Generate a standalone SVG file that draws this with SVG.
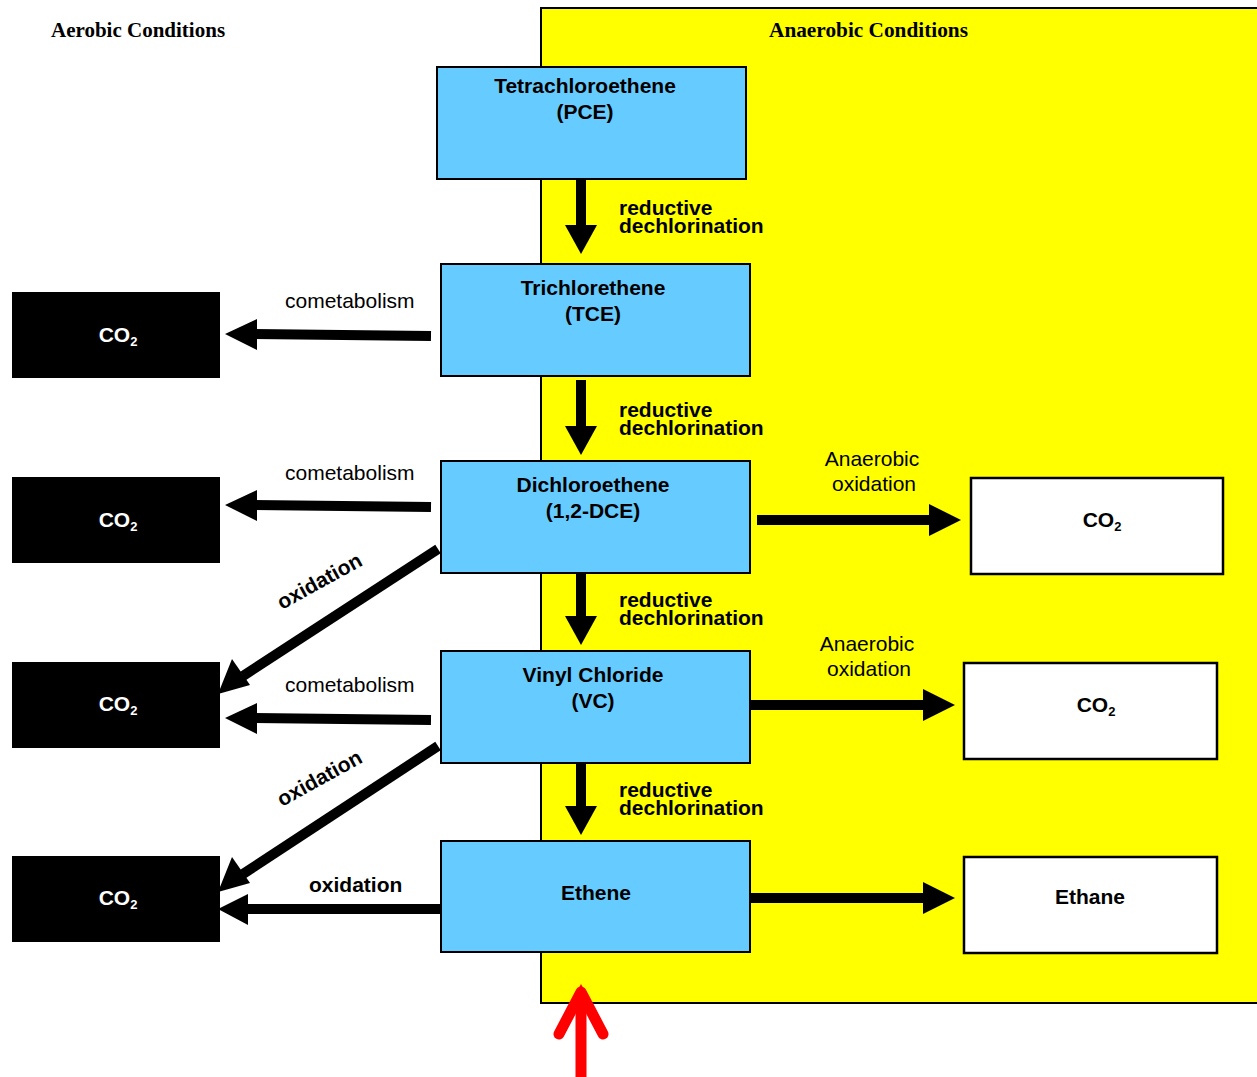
<svg xmlns="http://www.w3.org/2000/svg" width="1257" height="1077" viewBox="0 0 1257 1077">
<style>
.title{font-family:"Liberation Serif","Times New Roman",serif;font-weight:bold;font-size:21px;fill:#000}
.box{fill:#66CCFF;stroke:#000;stroke-width:2}
.blk{fill:#000}
.wht{fill:#fff;stroke:#000;stroke-width:2.5}
.bt{font-family:"Liberation Sans",Arial,sans-serif;font-weight:bold;font-size:21px;fill:#000;text-anchor:middle}
.ct{font-family:"Liberation Sans",Arial,sans-serif;font-weight:bold;font-size:21px;fill:#fff;text-anchor:middle}
.sub{font-size:13px}
.lb{font-family:"Liberation Sans",Arial,sans-serif;font-weight:bold;font-size:21px;fill:#000}
.ln{font-family:"Liberation Sans",Arial,sans-serif;font-size:21px;fill:#000}
.shaft{stroke:#000;stroke-width:10;fill:none}
.head{fill:#000}
</style>
<rect width="1257" height="1077" fill="#fff"/>
<rect x="541" y="8" width="720" height="995" fill="#FFFF00" stroke="#000" stroke-width="2"/>
<text class="title" x="51" y="37">Aerobic Conditions</text>
<text class="title" x="769" y="37" textLength="199" lengthAdjust="spacingAndGlyphs">Anaerobic Conditions</text>

<g id="connectors">
  <g id="down1"><line class="shaft" x1="581" y1="179" x2="581" y2="226"/><polygon class="head" points="565,225 597,225 581,254"/></g>
  <g id="down2"><line class="shaft" x1="581" y1="380" x2="581" y2="427"/><polygon class="head" points="565,426 597,426 581,455"/></g>
  <g id="down3"><line class="shaft" x1="581" y1="571" x2="581" y2="617"/><polygon class="head" points="565,616 597,616 581,645"/></g>
  <g id="down4"><line class="shaft" x1="581" y1="761" x2="581" y2="807"/><polygon class="head" points="565,806 597,806 581,835"/></g>
  <text class="lb" x="619" y="215">reductive</text><text class="lb" x="619" y="233">dechlorination</text>
  <text class="lb" x="619" y="417">reductive</text><text class="lb" x="619" y="435">dechlorination</text>
  <text class="lb" x="619" y="607">reductive</text><text class="lb" x="619" y="625">dechlorination</text>
  <text class="lb" x="619" y="797">reductive</text><text class="lb" x="619" y="815">dechlorination</text>

  <g id="co1"><line class="shaft" x1="431" y1="336" x2="254" y2="334"/><polygon class="head" points="257,319 257,350 225,334"/></g>
  <g id="co2"><line class="shaft" x1="431" y1="507" x2="254" y2="505"/><polygon class="head" points="257,490 257,521 225,505"/></g>
  <g id="co3"><line class="shaft" x1="431" y1="720" x2="254" y2="718"/><polygon class="head" points="257,703 257,734 225,718"/></g>
  <text class="ln" x="285" y="308">cometabolism</text>
  <text class="ln" x="285" y="480">cometabolism</text>
  <text class="ln" x="285" y="692">cometabolism</text>

  <g id="ox1"><line class="shaft" x1="438" y1="549" x2="243" y2="676"/><polygon class="head" points="232,659 250,685 218,694"/></g>
  <g id="ox2"><line class="shaft" x1="438" y1="746" x2="243" y2="874"/><polygon class="head" points="232,857 250,883 218,892"/></g>
  <text class="lb" transform="translate(282,610) rotate(-29)">oxidation</text>
  <text class="lb" transform="translate(282,807) rotate(-29)">oxidation</text>
  <g id="ox3"><line class="shaft" x1="441" y1="909" x2="246" y2="909"/><polygon class="head" points="248,894 248,925 218,909"/></g>
  <text class="lb" x="309" y="892">oxidation</text>

  <g id="an1"><line class="shaft" x1="757" y1="520" x2="932" y2="520"/><polygon class="head" points="929,504 929,536 961,520"/></g>
  <g id="an2"><line class="shaft" x1="750" y1="705" x2="926" y2="705"/><polygon class="head" points="923,689 923,721 955,705"/></g>
  <g id="an3"><line class="shaft" x1="750" y1="898" x2="926" y2="898"/><polygon class="head" points="923,882 923,914 955,898"/></g>
  <text class="ln" x="872" y="466" text-anchor="middle">Anaerobic</text><text class="ln" x="874" y="491" text-anchor="middle">oxidation</text>
  <text class="ln" x="867" y="651" text-anchor="middle">Anaerobic</text><text class="ln" x="869" y="676" text-anchor="middle">oxidation</text>

  <g id="red" stroke="#FF0000" stroke-width="11" fill="none" stroke-linecap="round" stroke-linejoin="round">
    <line x1="581" y1="1080" x2="581" y2="992" stroke-linecap="butt"/>
    <polyline points="559,1034 581,992 603,1034"/>
  </g>
  <polygon points="581,984 566,1012 596,1012" fill="#FF0000"/>
</g>

<g id="pce"><rect class="box" x="437" y="67" width="309" height="112"/><text class="bt" x="585" y="93">Tetrachloroethene</text><text class="bt" x="585" y="119">(PCE)</text></g>
<g id="tce"><rect class="box" x="441" y="264" width="309" height="112"/><text class="bt" x="593" y="295">Trichlorethene</text><text class="bt" x="593" y="321">(TCE)</text></g>
<g id="dce"><rect class="box" x="441" y="461" width="309" height="112"/><text class="bt" x="593" y="492">Dichloroethene</text><text class="bt" x="593" y="518">(1,2-DCE)</text></g>
<g id="vc"><rect class="box" x="441" y="651" width="309" height="112"/><text class="bt" x="593" y="682">Vinyl Chloride</text><text class="bt" x="593" y="708">(VC)</text></g>
<g id="ethene"><rect class="box" x="441" y="841" width="309" height="111"/><text class="bt" x="596" y="900">Ethene</text></g>

<g id="co2a"><rect class="blk" x="12" y="292" width="208" height="86"/><text class="ct" x="118" y="342">CO<tspan class="sub" dy="4">2</tspan></text></g>
<g id="co2b"><rect class="blk" x="12" y="477" width="208" height="86"/><text class="ct" x="118" y="527">CO<tspan class="sub" dy="4">2</tspan></text></g>
<g id="co2c"><rect class="blk" x="12" y="662" width="208" height="86"/><text class="ct" x="118" y="711">CO<tspan class="sub" dy="4">2</tspan></text></g>
<g id="co2d"><rect class="blk" x="12" y="856" width="208" height="86"/><text class="ct" x="118" y="905">CO<tspan class="sub" dy="4">2</tspan></text></g>

<g id="co2e"><rect class="wht" x="971" y="478" width="252" height="96"/><text class="bt" x="1102" y="527">CO<tspan class="sub" dy="4">2</tspan></text></g>
<g id="co2f"><rect class="wht" x="964" y="663" width="253" height="96"/><text class="bt" x="1096" y="712">CO<tspan class="sub" dy="4">2</tspan></text></g>
<g id="ethane"><rect class="wht" x="964" y="857" width="253" height="96"/><text class="bt" x="1090" y="904">Ethane</text></g>
</svg>
